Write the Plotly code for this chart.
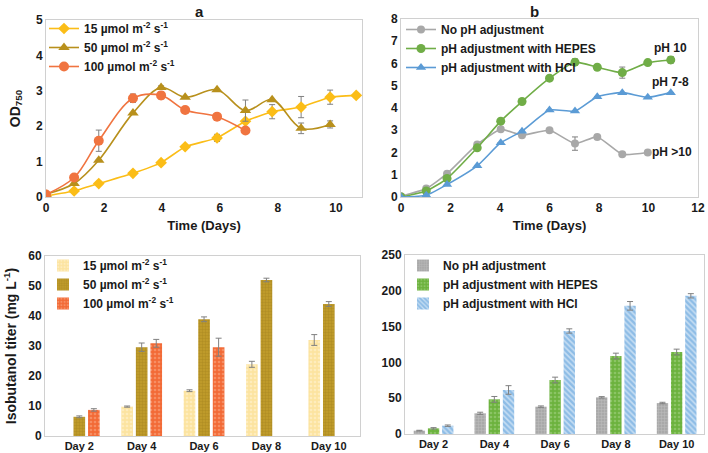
import plotly.graph_objects as go

# ---------------- data ----------------
days_a = [0, 0.97, 1.82, 3.0, 3.97, 4.8, 5.9, 6.88, 7.8, 8.8, 9.8, 10.7]
od_15 = [0.03, 0.17, 0.38, 0.67, 0.97, 1.42, 1.67, 2.14, 2.41, 2.54, 2.82, 2.87]
od_15_err = [0, 0, 0, 0, 0, 0, 0.1, 0.05, 0.2, 0.3, 0.2, 0.05]
days_a50 = days_a[:11]
od_50 = [0.08, 0.38, 1.04, 2.37, 3.09, 2.82, 3.03, 2.44, 2.75, 1.94, 2.05]
od_50_err = [0, 0, 0, 0, 0.05, 0, 0, 0.3, 0, 0.15, 0.1]
days_a100 = days_a[:8]
od_100 = [0.07, 0.55, 1.59, 2.79, 2.87, 2.46, 2.27, 1.88]
od_100_err = [0, 0, 0.3, 0.12, 0.1, 0, 0, 0]

days_b = [0, 1.02, 1.86, 3.08, 4.03, 4.89, 6.0, 7.03, 7.93, 8.94, 9.97, 10.9]
od_noph = [0.03, 0.38, 1.05, 2.36, 3.04, 2.78, 3.0, 2.4, 2.7, 1.92, 2.0]
od_noph_err = [0, 0, 0, 0.05, 0, 0, 0, 0.3, 0, 0, 0]
od_hepes = [0.0, 0.27, 0.83, 2.21, 3.41, 4.29, 5.34, 6.06, 5.83, 5.59, 6.04, 6.16]
od_hepes_err = [0, 0, 0, 0, 0, 0, 0, 0.15, 0, 0.25, 0, 0.15]
od_hcl = [0.0, 0.08, 0.56, 1.4, 2.44, 2.96, 3.91, 3.86, 4.51, 4.69, 4.48, 4.69]
od_hcl_err = [0, 0, 0, 0, 0, 0, 0, 0, 0, 0, 0, 0]

bar_days = ["Day 2", "Day 4", "Day 6", "Day 8", "Day 10"]
iso_15 = [None, 9.8, 15.1, 23.9, 32.0]
iso_15_err = [0, 0.2, 0.3, 1.0, 1.8]
iso_50 = [6.4, 29.6, 38.9, 52.0, 44.0]
iso_50_err = [0.3, 1.4, 0.8, 0.6, 0.8]
iso_100 = [8.7, 30.9, 29.6, None, None]
iso_100_err = [0.4, 1.3, 3.0, 0, 0]

iso_noph = [4.7, 28.9, 38.2, 51.2, 43.3]
iso_noph_err = [0.5, 1.5, 1.0, 1.0, 1.0]
iso_hepes = [7.9, 48.4, 75.4, 108.9, 114.5]
iso_hepes_err = [1.0, 4.0, 4.0, 4.0, 4.0]
iso_hcl = [11.6, 61.5, 143.9, 179.0, 193.0]
iso_hcl_err = [1.0, 6.0, 3.0, 6.0, 3.0]

ph_labels = ["pH 10", "pH 7-8", "pH >10"]
ph_label_x = [10.87, 10.87, 10.95]
ph_label_y = [6.7, 5.17, 2.02]

# ---------------- styles ----------------
FONT = "Arial, Liberation Sans, sans-serif"
C15, C50, C100 = "#FBBD17", "#B8901C", "#F07440"
CGR, CGN, CBL = "#A8A8A8", "#70AD47", "#5B9BD5"
ERR = "#808080"
FRAME = "#D0D0D0"
TXT = "#1a1a1a"

W, H = 708, 453
def dx(a, b):
    return [a / W, b / W]
def dy(top, bottom):
    return [1 - bottom / H, 1 - top / H]

fig = go.Figure()

def err(vals):
    return dict(type="data", array=vals, color=ERR, thickness=1, width=3, visible=True)

def label(t):
    return "<b>" + t + "</b>"

unit = " µmol m<sup>-2</sup> s<sup>-1</sup>"

# panel a (top-left)
fig.add_trace(go.Scatter(x=days_a, y=od_15, error_y=err(od_15_err), mode="lines+markers",
                         line=dict(color=C15, width=1.6, shape="spline", smoothing=0.4),
                         marker=dict(symbol="diamond", size=9, color=C15),
                         name=label("15" + unit), xaxis="x", yaxis="y", legend="legend"))
fig.add_trace(go.Scatter(x=days_a50, y=od_50, error_y=err(od_50_err), mode="lines+markers",
                         line=dict(color=C50, width=1.6, shape="spline", smoothing=1),
                         marker=dict(symbol="triangle-up", size=10, color=C50),
                         name=label("50" + unit), xaxis="x", yaxis="y", legend="legend"))
fig.add_trace(go.Scatter(x=days_a100, y=od_100, error_y=err(od_100_err), mode="lines+markers",
                         line=dict(color=C100, width=1.6, shape="spline", smoothing=1),
                         marker=dict(symbol="circle", size=10, color=C100),
                         name=label("100" + unit), xaxis="x", yaxis="y", legend="legend"))

# panel b (top-right)
fig.add_trace(go.Scatter(x=days_b[:11], y=od_noph, error_y=err(od_noph_err), mode="lines+markers",
                         line=dict(color=CGR, width=1.6, shape="spline", smoothing=0.5),
                         marker=dict(symbol="circle", size=8, color=CGR),
                         name=label("No pH adjustment"), xaxis="x2", yaxis="y2", legend="legend2"))
fig.add_trace(go.Scatter(x=days_b, y=od_hepes, error_y=err(od_hepes_err), mode="lines+markers",
                         line=dict(color=CGN, width=1.6, shape="spline", smoothing=0.5),
                         marker=dict(symbol="circle", size=9, color=CGN),
                         name=label("pH adjustment with HEPES"), xaxis="x2", yaxis="y2", legend="legend2"))
fig.add_trace(go.Scatter(x=days_b, y=od_hcl, error_y=err(od_hcl_err), mode="lines+markers",
                         line=dict(color=CBL, width=1.6, shape="spline", smoothing=0.5),
                         marker=dict(symbol="triangle-up", size=9, color=CBL),
                         name=label("pH adjustment with HCl"), xaxis="x2", yaxis="y2", legend="legend2"))

# bottom-left bars
def patt(shape, fg, size=4, sol=0.35):
    return dict(shape=shape, fgcolor=fg, size=size, solidity=sol, fillmode="overlay")

fig.add_trace(go.Bar(x=bar_days, y=iso_15, error_y=err(iso_15_err),
                     marker=dict(color="#FCE3A0", line=dict(width=0), pattern=patt(".", "#FFF6DA")),
                     name=label("15" + unit), xaxis="x3", yaxis="y3", legend="legend3"))
fig.add_trace(go.Bar(x=bar_days, y=iso_50, error_y=err(iso_50_err),
                     marker=dict(color="#BE9A2A", line=dict(width=0), pattern=patt("+", "#9A7A18", 3, 0.3)),
                     name=label("50" + unit), xaxis="x3", yaxis="y3", legend="legend3"))
fig.add_trace(go.Bar(x=bar_days, y=iso_100, error_y=err(iso_100_err),
                     marker=dict(color="#F26A36", line=dict(width=0), pattern=patt(".", "#F9B28F")),
                     name=label("100" + unit), xaxis="x3", yaxis="y3", legend="legend3"))

# bottom-right bars
fig.add_trace(go.Bar(x=bar_days, y=iso_noph, error_y=err(iso_noph_err),
                     marker=dict(color="#A9A9A9", line=dict(width=0), pattern=patt("+", "#D0D0D0", 3, 0.3)),
                     name=label("No pH adjustment"), xaxis="x4", yaxis="y4", legend="legend4"))
fig.add_trace(go.Bar(x=bar_days, y=iso_hepes, error_y=err(iso_hepes_err),
                     marker=dict(color="#6CB23E", line=dict(width=0), pattern=patt(".", "#A9D68C")),
                     name=label("pH adjustment with HEPES"), xaxis="x4", yaxis="y4", legend="legend4"))
fig.add_trace(go.Bar(x=bar_days, y=iso_hcl, error_y=err(iso_hcl_err),
                     marker=dict(color="#8DBCE6", line=dict(width=0), pattern=patt("\\", "#FFFFFF", 4, 0.4)),
                     name=label("pH adjustment with HCl"), xaxis="x4", yaxis="y4", legend="legend4"))

tickfont = dict(family=FONT, size=12, color=TXT, weight="bold")

def axis(domain, anchor, **kw):
    d = dict(domain=domain, anchor=anchor, showline=True, linecolor=FRAME, linewidth=1,
             mirror=True, showgrid=False, zeroline=False, ticks="", tickfont=tickfont,
             automargin=False)
    d.update(kw)
    return d

def title(t, size=13):
    return dict(text=t, font=dict(family=FONT, size=size, color=TXT))

legfont = dict(family=FONT, size=12, color=TXT)
def leg(x, y):
    return dict(x=x / W, y=1 - y / H, xanchor="left", yanchor="top", bgcolor="rgba(0,0,0,0)",
                font=legfont, tracegroupgap=0, itemwidth=30)

annots = [
    dict(text="<b>a</b>", x=193 / W, y=1 - 1 / H, xref="paper", yref="paper", showarrow=False,
         yanchor="top", font=dict(family=FONT, size=15, color=TXT)),
    dict(text="<b>b</b>", x=541 / W, y=1 - 1 / H, xref="paper", yref="paper", showarrow=False,
         yanchor="top", font=dict(family=FONT, size=15, color=TXT)),
]
for t, xx, yy in zip(ph_labels, ph_label_x, ph_label_y):
    annots.append(dict(text="<b>" + t + "</b>", x=xx, y=yy, xref="x2", yref="y2", showarrow=False,
                       font=dict(family=FONT, size=12, color=TXT)))

fig.update_layout(
    width=W, height=H, margin=dict(l=0, r=0, t=0, b=0, autoexpand=False),
    paper_bgcolor="white", plot_bgcolor="white",
    barmode="group", bargap=0.3, bargroupgap=0.2,
    xaxis=axis(dx(46, 362), "y", range=[0, 10.9], tickvals=[0, 2, 4, 6, 8, 10],
               title=title("<b>Time (Days)</b>"), title_standoff=6),
    yaxis=axis(dy(20, 197), "x", range=[0, 5], dtick=1,
               title=title("<b>OD<sub>750</sub></b>", 14), title_standoff=12),
    xaxis2=axis(dx(401, 698), "y2", range=[0, 12], dtick=2,
                title=title("<b>Time (Days)</b>"), title_standoff=6),
    yaxis2=axis(dy(19, 197), "x2", range=[0, 8], dtick=1),
    xaxis3=axis(dx(45, 360), "y3", range=[-0.55, 4.5],
                tickfont=dict(family=FONT, size=11, color=TXT, weight="bold")),
    yaxis3=axis(dy(256, 436), "x3", range=[0, 60], dtick=10,
                title=title("<b>Isobutanol titer (mg L<sup>-1</sup>)</b>", 14), title_standoff=8),
    xaxis4=axis(dx(405, 704), "y4", range=[-0.47, 4.45],
                tickfont=dict(family=FONT, size=11, color=TXT, weight="bold")),
    yaxis4=axis(dy(255, 434), "x4", range=[0, 250], dtick=50),
    legend=leg(44, 14),
    legend2=leg(401, 15),
    legend3=leg(43, 251),
    legend4=leg(403, 251),
    annotations=annots,
)

fig.write_html("out.html", config={"displayModeBar": False})

# remove the default page margin so the figure sits at the window's top-left corner
with open("out.html", "r", encoding="utf-8") as f:
    html = f.read()
html = html.replace("<body>", "<body style=\"margin:0;padding:0;overflow:hidden\">", 1)
with open("out.html", "w", encoding="utf-8") as f:
    f.write(html)
